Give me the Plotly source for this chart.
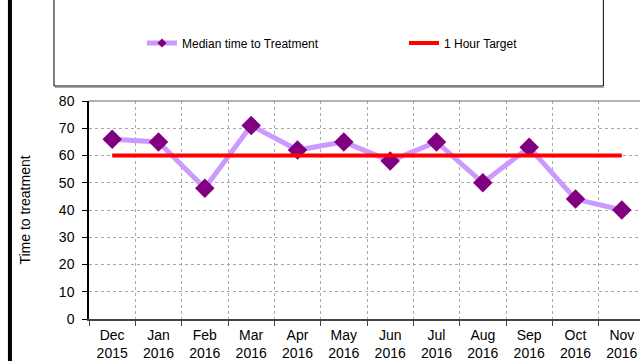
import plotly.graph_objects as go

months = ["Dec<br>2015", "Jan<br>2016", "Feb<br>2016", "Mar<br>2016", "Apr<br>2016", "May<br>2016",
          "Jun<br>2016", "Jul<br>2016", "Aug<br>2016", "Sep<br>2016", "Oct<br>2016", "Nov<br>2016"]
median_time = [66, 65, 48, 71, 62, 65, 58, 65, 50, 63, 44, 40]
target = [60] * len(months)
y_ticks = [0, 10, 20, 30, 40, 50, 60, 70, 80]

FONT = "Liberation Sans, Arial, sans-serif"

W, H = 660, 361
L, T, B = 89, 101, 42
PLOT_W = 12 * 46.3
R = W - L - PLOT_W
PLOT_H = H - T - B


def px_x(px):
    return (px - L) / PLOT_W


def px_y(py):
    return (H - B - py) / PLOT_H


fig = go.Figure()

fig.add_trace(go.Scatter(
    x=months, y=median_time, mode="lines+markers",
    line=dict(color="#CC99FF", width=5),
    marker=dict(symbol="diamond", size=15, color="#800080"),
    showlegend=False,
))
fig.add_trace(go.Scatter(
    x=months, y=target, mode="lines",
    line=dict(color="#FF0000", width=4),
    showlegend=False,
))

# legend entries with compact symbols
fig.add_trace(go.Scatter(
    x=[None], y=[None], mode="lines+markers", name="Median time to Treatment",
    line=dict(color="#CC99FF", width=5),
    marker=dict(symbol="diamond", size=7, color="#800080"),
))
fig.add_trace(go.Scatter(
    x=[None], y=[None], mode="lines", name="1 Hour Target",
    line=dict(color="#FF0000", width=4),
))

shapes = [
    # legend frame
    dict(type="rect", xref="paper", yref="paper",
         x0=px_x(54), x1=px_x(603), y0=px_y(86), y1=px_y(-5),
         line=dict(color="black", width=1), fillcolor="rgba(0,0,0,0)", layer="below"),
    dict(type="line", xref="paper", yref="paper",
         x0=px_x(55), x1=px_x(604), y0=px_y(87.5), y1=px_y(87.5),
         line=dict(color="#AAAAAA", width=1)),
    # left page rule
    dict(type="line", xref="paper", yref="paper",
         x0=px_x(10), x1=px_x(10), y0=px_y(-5), y1=px_y(370),
         line=dict(color="black", width=4)),
    # top border of plot area
    dict(type="line", xref="paper", yref="paper",
         x0=0, x1=1, y0=1, y1=1,
         line=dict(color="#999999", width=1.5)),
]

fig.update_layout(
    width=W, height=H,
    margin=dict(l=L, r=R, t=T, b=B, pad=0),
    paper_bgcolor="white", plot_bgcolor="white",
    font=dict(family=FONT, size=14, color="black"),
    shapes=shapes,
    legend=dict(
        orientation="h", xref="container", yref="container",
        x=142 / W, xanchor="left", y=1 - 43 / H, yanchor="middle",
        font=dict(family=FONT, size=12, color="black"),
        bgcolor="rgba(0,0,0,0)", entrywidth=217, entrywidthmode="pixels",
        itemwidth=30, tracegroupgap=0,
    ),
    xaxis=dict(
        type="category", range=[-0.5, 11.5], tickson="boundaries",
        showgrid=True, gridcolor="#AAAAAA", griddash="dot", gridwidth=1,
        showline=True, linecolor="#444444", linewidth=1.5,
        ticks="outside", ticklen=5, tickcolor="#444444",
        tickfont=dict(family=FONT, size=14), fixedrange=True, automargin=False,
        ticklabelstandoff=2,
    ),
    yaxis=dict(
        range=[0, 80], tickvals=y_ticks,
        showgrid=True, gridcolor="#AAAAAA", griddash="dot", gridwidth=1,
        showline=True, linecolor="black", linewidth=1.5,
        ticks="outside", ticklen=5, tickcolor="black",
        tickfont=dict(family=FONT, size=14), zeroline=False, automargin=False,
        ticklabelstandoff=5,
        title=dict(text="Time to treatment", font=dict(family=FONT, size=14), standoff=25),
    ),
)

fig.write_html("out.html")
